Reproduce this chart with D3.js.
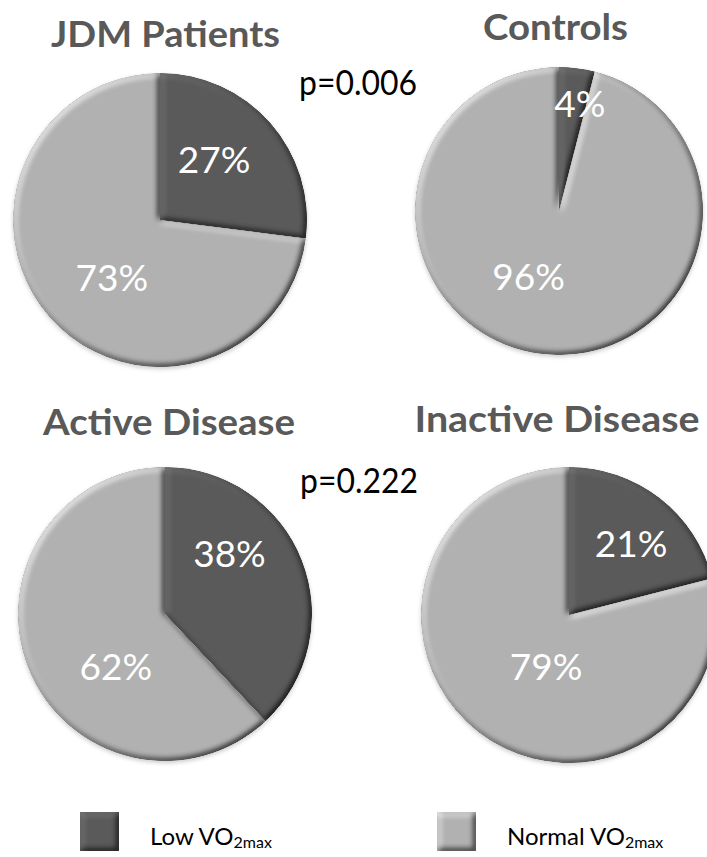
<!DOCTYPE html>
<html>
<head>
<meta charset="utf-8">
<script src="https://cdn.jsdelivr.net/npm/d3@7"></script>
<style>
  html, body { margin: 0; padding: 0; background: #fff; }
  svg { display: block; }
</style>
</head>
<body>
<svg id="chart" width="707" height="857"></svg>
<script>
// ---- data ----
const groups = ["JDM Patients", "Controls", "Active Disease", "Inactive Disease"];
const lowVO2 = [27, 4, 38, 21];       // % with low VO2max
const normalVO2 = [73, 96, 62, 79];   // % with normal VO2max
const seriesNames = ["Low VO", "Normal VO"];
const seriesSub = "2max";
const pValues = ["p=0.006", "p=0.222"];

// ---- layout ----
const pies = [
  { cx: 160, cy: 220, r: 147, titleX: 165.5, titleY: 47, titleW: 229,
    labels: [[42, 0.55], [220, 0.51]] },
  { cx: 559, cy: 211, r: 144, titleX: 555.5, titleY: 40, titleW: 145,
    labels: [[11, 0.76], [205, 0.50]] },
  { cx: 165, cy: 614, r: 147, titleX: 169, titleY: 435, titleW: 252,
    labels: [[47, 0.60], [223, 0.49]] },
  { cx: 569, cy: 615, r: 148, titleX: 557, titleY: 432, titleW: 285,
    labels: [[41, 0.64], [204, 0.38]] }
];
const pLayout = [{ x: 358, y: 95 }, { x: 359, y: 493 }];
const colors = d3.scaleOrdinal().domain(seriesNames).range(["#5a5a5a", "#b1b1b1"]);
const FONT = "Lato, 'Open Sans', 'DejaVu Sans', sans-serif";

const svg = d3.select("#chart");

// bevelled look: lighting from the upper left on a blurred alpha edge
const defs = svg.append("defs");
const bevel = defs.append("filter").attr("id", "bevel")
  .attr("x", "-10%").attr("y", "-10%").attr("width", "120%").attr("height", "120%")
  .attr("color-interpolation-filters", "sRGB");
bevel.append("feGaussianBlur").attr("in", "SourceAlpha").attr("stdDeviation", 3).attr("result", "blur");
bevel.append("feDiffuseLighting").attr("in", "blur").attr("surfaceScale", 3)
  .attr("diffuseConstant", 1).attr("lighting-color", "#fff").attr("result", "light")
  .append("feDistantLight").attr("azimuth", 225).attr("elevation", 55);
bevel.append("feComposite").attr("in", "SourceGraphic").attr("in2", "light")
  .attr("operator", "arithmetic").attr("k1", 1 / Math.sin(55 * Math.PI / 180))
  .attr("k2", 0).attr("k3", 0).attr("k4", 0)
  .attr("result", "lit");
bevel.append("feComposite").attr("in", "lit").attr("in2", "SourceAlpha").attr("operator", "in");

const shadow = defs.append("filter").attr("id", "shadow")
  .attr("x", "-10%").attr("y", "-10%").attr("width", "120%").attr("height", "125%");
shadow.append("feDropShadow").attr("dx", 0).attr("dy", 2).attr("stdDeviation", 2)
  .attr("flood-color", "#000").attr("flood-opacity", 0.2);

const pie = d3.pie().sort(null).value(d => d.value);

groups.forEach((g, i) => {
  const L = pies[i];
  const data = [
    { key: seriesNames[0], value: lowVO2[i] },
    { key: seriesNames[1], value: normalVO2[i] }
  ];
  const arcs = pie(data);
  const arc = d3.arc().innerRadius(0).outerRadius(L.r);

  const grp = svg.append("g").attr("transform", `translate(${L.cx},${L.cy})`);
  const sl = grp.append("g").attr("filter", "url(#shadow)");
  sl.selectAll("path").data(arcs).join("path")
    .attr("d", arc)
    .attr("fill", d => colors(d.data.key))
    .attr("filter", "url(#bevel)");

  grp.selectAll("text.pct").data(arcs).join("text")
    .attr("class", "pct")
    .attr("x", (d, j) => Math.sin(L.labels[j][0] * Math.PI / 180) * L.labels[j][1] * L.r)
    .attr("y", (d, j) => -Math.cos(L.labels[j][0] * Math.PI / 180) * L.labels[j][1] * L.r)
    .attr("dy", "0.36em")
    .attr("text-anchor", "middle")
    .attr("font-family", FONT)
    .attr("font-size", 37)
    .attr("fill", "#fff")
    .text(d => d.data.value + "%");

  svg.append("text")
    .attr("x", L.titleX).attr("y", L.titleY)
    .attr("text-anchor", "middle")
    .attr("font-family", FONT).attr("font-weight", "bold")
    .attr("font-size", 37)
    .attr("textLength", L.titleW).attr("lengthAdjust", "spacingAndGlyphs")
    .attr("fill", "#595959")
    .text(g);
});

pValues.forEach((p, i) => {
  svg.append("text")
    .attr("x", pLayout[i].x).attr("y", pLayout[i].y)
    .attr("text-anchor", "middle")
    .attr("font-family", FONT).attr("font-size", 34)
    .attr("textLength", 118).attr("lengthAdjust", "spacingAndGlyphs")
    .attr("fill", "#000")
    .text(p);
});

// legend
const legendX = [80, 437];
const leg = svg.append("g");
seriesNames.forEach((s, i) => {
  leg.append("rect")
    .attr("x", legendX[i]).attr("y", 812).attr("width", 39).attr("height", 39)
    .attr("fill", colors(s)).attr("filter", "url(#bevel)");
  const t = leg.append("text")
    .attr("x", legendX[i] + 70).attr("y", 845)
    .attr("font-family", FONT).attr("font-size", 24).attr("fill", "#000");
  t.append("tspan").text(s);
  t.append("tspan").attr("font-size", 16).attr("dy", 3).text(seriesSub);
});
</script>
</body>
</html>
